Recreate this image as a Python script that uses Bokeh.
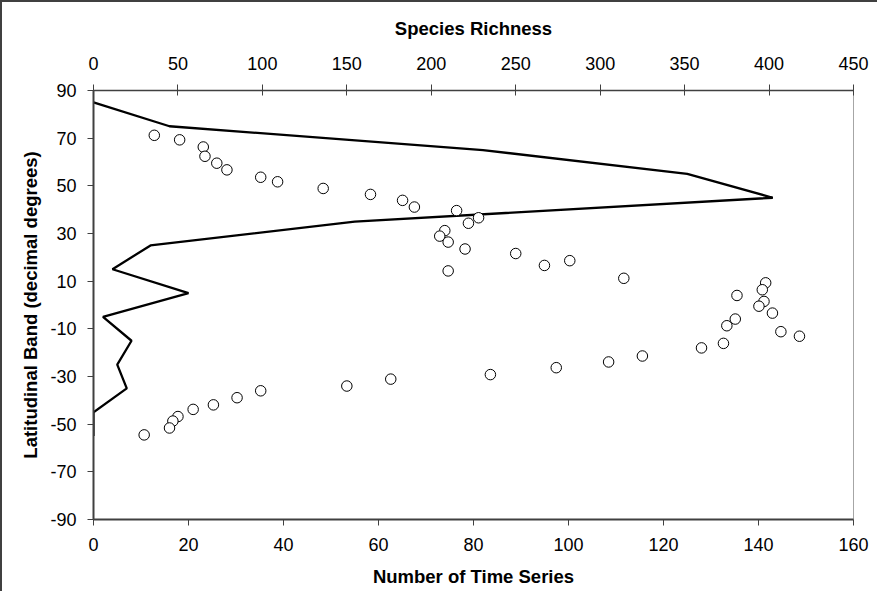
from bokeh.plotting import figure
from bokeh.models import Range1d, LinearAxis, FixedTicker, PrintfTickFormatter
from bokeh.embed import file_html
from bokeh.resources import INLINE

# Number of time series per 10-degree latitudinal band (bottom axis)
band_lat = [85, 75, 65, 55, 45, 35, 25, 15, 5, -5, -15, -25, -35, -45, -55]
n_series = [0, 16, 82, 125, 143, 55, 12, 4, 20, 2, 8, 5, 7, 0, 0]

# Species richness vs latitude (top axis)
rich_lat = [71.2, 69.3, 66.3, 62.4, 59.5, 56.7, 53.6, 51.7, 48.9, 46.4,
            43.9, 41.1, 39.6, 36.6, 34.3, 31.2, 28.9, 26.4, 23.5, 14.3,
            21.6, 16.6, 18.6, 11.2, 4.0, 9.3, 6.4, 1.5, -0.5, -3.4,
            -5.9, -8.7, -11.2, -13.1, -16.1, -18.0, -21.4, -23.9, -26.3, -29.2,
            -31.1, -34.0, -36.0, -38.9, -41.9, -43.8, -46.8, -48.7, -51.6, -54.5]
richness = [36, 51, 65, 66, 73, 79, 99, 109, 136, 164,
            183, 190, 215, 228, 222, 208, 205, 210, 220, 210,
            250, 267, 282, 314, 381, 398, 396, 397, 394, 402,
            380, 375, 407, 418, 373, 360, 325, 305, 274, 235,
            176, 150, 99, 85, 71, 59, 50, 47, 45, 30]

bottom_ticks = [0, 20, 40, 60, 80, 100, 120, 140, 160]
top_ticks = [0, 50, 100, 150, 200, 250, 300, 350, 400, 450]
lat_ticks = [-90, -70, -50, -30, -10, 10, 30, 50, 70, 90]

FONT = "Liberation Sans"
AX = "#404040"

p = figure(width=877, height=591, output_backend="svg", toolbar_location=None,
           x_range=Range1d(0, 160), y_range=Range1d(-90, 90),
           x_axis_location=None, y_axis_location=None,
           min_border_left=91, min_border_top=88, min_border_right=26,
           min_border_bottom=74)
p.extra_x_ranges = {"rich": Range1d(0, 450)}
p.grid.visible = False
p.outline_line_color = "#a6a6a6"
p.outline_line_width = 1
p.background_fill_color = "white"
p.border_fill_color = "white"
p.styles = {"border-top": "2px solid #404040", "border-left": "2px solid #404040"}


def style_axis(ax, ticks, label, tick_in=0):
    ax.ticker = FixedTicker(ticks=ticks)
    ax.formatter = PrintfTickFormatter(format="%d")
    ax.axis_label = label
    ax.axis_label_text_font = FONT
    ax.axis_label_text_font_style = "bold"
    ax.axis_label_text_font_size = "18.5px"
    ax.axis_label_text_color = "black"
    ax.major_label_text_font = FONT
    ax.major_label_text_font_size = "18px"
    ax.major_label_text_color = "black"
    ax.axis_line_color = AX
    ax.axis_line_width = 2
    ax.major_tick_line_color = AX
    ax.major_tick_line_width = 1
    ax.major_tick_out = 6
    ax.major_tick_in = tick_in
    ax.minor_tick_line_color = None


bottom = LinearAxis()
style_axis(bottom, bottom_ticks, "Number of Time Series")
bottom.major_label_standoff = 12
bottom.axis_label_standoff = 12
p.add_layout(bottom, "below")

top = LinearAxis(x_range_name="rich")
style_axis(top, top_ticks, "Species Richness", tick_in=5)
top.axis_line_width = 1.5
top.major_label_standoff = 15
top.axis_label_standoff = 15
p.add_layout(top, "above")

left = LinearAxis()
style_axis(left, lat_ticks, "Latitudinal Band (decimal degrees)")
left.major_label_standoff = 11
left.axis_label_standoff = 6
p.add_layout(left, "left")

p.line(n_series, band_lat, line_color="black", line_width=2.3)
p.scatter(richness, rich_lat, x_range_name="rich", size=10.5, marker="circle",
          fill_color="white", line_color="black", line_width=1)

open("out.html", "w").write(file_html(p, INLINE))
